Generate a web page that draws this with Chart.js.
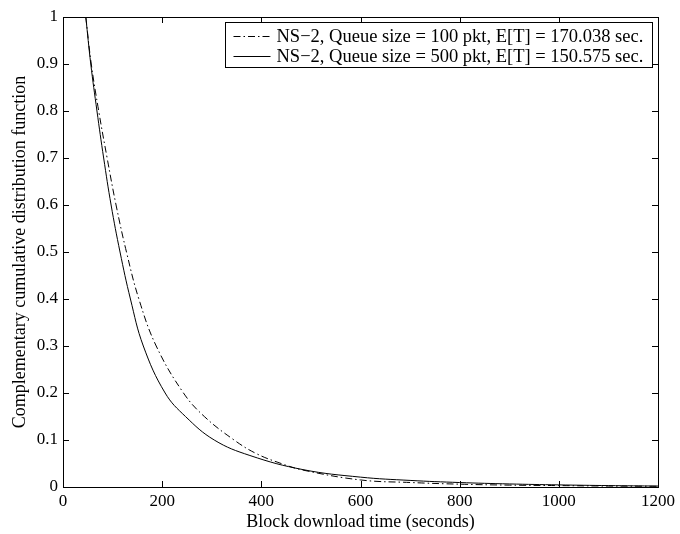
<!DOCTYPE html>
<html>
<head>
<meta charset="utf-8">
<script src="https://cdn.jsdelivr.net/npm/chart.js@4.4.0/dist/chart.umd.min.js"></script>
<style>
  html, body { margin: 0; padding: 0; background: #fff; }
  #wrap { width: 680px; height: 534px; }
</style>
</head>
<body>
<div id="wrap"><canvas id="ccdfChart"></canvas></div>
<script>
var seriesLabels = [
  'NS\u22122, Queue size = 100 pkt, E[T] = 170.038 sec.',
  'NS\u22122, Queue size = 500 pkt, E[T] = 150.575 sec.'
];
var q100Times = [46, 57, 72, 89, 107, 128, 153, 188, 243, 285, 345, 390, 440, 484, 600, 700, 800, 900, 1000, 1100, 1200];
var q100Ccdf  = [1.0, 0.9, 0.8, 0.7, 0.6, 0.5, 0.4, 0.3, 0.2, 0.15, 0.1, 0.071, 0.05, 0.036, 0.015, 0.0096, 0.006, 0.004, 0.003, 0.002, 0.0015];
var q500Times = [46, 56, 68.5, 82, 97, 115, 136, 162, 206, 247, 305, 377, 484, 600, 700, 800, 900, 1000, 1100, 1200];
var q500Ccdf  = [1.0, 0.9, 0.8, 0.7, 0.6, 0.5, 0.4, 0.3, 0.2, 0.15, 0.1, 0.067, 0.037, 0.021, 0.014, 0.0095, 0.0065, 0.0045, 0.003, 0.002];
var xTicks = [0, 200, 400, 600, 800, 1000, 1200];
var yTicks = [0, 0.1, 0.2, 0.3, 0.4, 0.5, 0.6, 0.7, 0.8, 0.9, 1];

var serif = '"Liberation Serif", "Times New Roman", serif';

function toPoints(xs, ys) {
  return xs.map(function (x, i) { return { x: x, y: ys[i] }; });
}

// matlab style box with inward ticks, plus the boxed legend
var boxPlugin = {
  id: 'boxTicks',
  afterDatasetsDraw: function (chart) {
    var ctx = chart.ctx;
    var a = chart.chartArea;
    var xs = chart.scales.x, ys = chart.scales.y;
    var len = 6;
    ctx.save();
    ctx.strokeStyle = '#000';
    ctx.lineWidth = 1;
    ctx.setLineDash([]);
    ctx.beginPath();
    xTicks.forEach(function (v) {
      var px = Math.round(xs.getPixelForValue(v)) + 0.5;
      ctx.moveTo(px, a.bottom); ctx.lineTo(px, a.bottom - len);
      ctx.moveTo(px, a.top); ctx.lineTo(px, a.top + len);
    });
    yTicks.forEach(function (v) {
      var py = Math.round(ys.getPixelForValue(v)) + 0.5;
      ctx.moveTo(a.left, py); ctx.lineTo(a.left + len, py);
      ctx.moveTo(a.right, py); ctx.lineTo(a.right - len, py);
    });
    ctx.stroke();
    ctx.strokeRect(Math.round(a.left) + 0.5, Math.round(a.top) + 0.5,
      Math.round(a.right - a.left), Math.round(a.bottom - a.top));

    // legend
    var lx = 225.5, ly = 22.5, lw = 427, lh = 45;
    ctx.fillStyle = '#fff';
    ctx.fillRect(lx, ly, lw, lh);
    ctx.strokeRect(lx, ly, lw, lh);
    ctx.font = '18.5px ' + serif;
    ctx.textBaseline = 'middle';
    ctx.fillStyle = '#000';
    chart.data.datasets.forEach(function (ds, i) {
      var rowY = ly + 14 + i * 20;
      ctx.beginPath();
      ctx.setLineDash(ds.borderDash || []);
      ctx.moveTo(lx + 8, rowY);
      ctx.lineTo(lx + 45, rowY);
      ctx.stroke();
      ctx.setLineDash([]);
      ctx.fillText(ds.label, lx + 51, rowY + 1);
    });
    ctx.restore();
  }
};

var ctx = document.getElementById('ccdfChart').getContext('2d');
var ccdfChart = new Chart(ctx, {
  type: 'line',
  data: {
    datasets: [
      {
        label: seriesLabels[0],
        data: toPoints(q100Times, q100Ccdf),
        borderColor: '#000',
        borderWidth: 1,
        borderDash: [7, 3, 1.5, 3],
        pointRadius: 0,
        fill: false,
        tension: 0.4
      },
      {
        label: seriesLabels[1],
        data: toPoints(q500Times, q500Ccdf),
        borderColor: '#000',
        borderWidth: 1,
        pointRadius: 0,
        fill: false,
        tension: 0.4
      }
    ]
  },
  options: {
    responsive: true,
    maintainAspectRatio: false,
    animation: false,
    layout: { padding: { top: 17, right: 22, left: 0, bottom: 0 } },
    plugins: {
      legend: { display: false },
      tooltip: { enabled: false }
    },
    scales: {
      x: {
        type: 'linear',
        min: 0,
        max: 1200,
        afterBuildTicks: function (s) { s.ticks = xTicks.map(function (v) { return { value: v }; }); },
        afterFit: function (s) { s.height = 47; },
        grid: { display: false, drawTicks: false },
        border: { display: false },
        ticks: {
          color: '#000',
          padding: 4,
          maxRotation: 0,
          font: { family: serif, size: 17 },
          callback: function (v) { return String(v); }
        },
        title: {
          display: true,
          text: 'Block download time (seconds)',
          color: '#000',
          font: { family: serif, size: 18 },
          padding: { top: 0, bottom: 1 }
        }
      },
      y: {
        type: 'linear',
        min: 0,
        max: 1,
        afterBuildTicks: function (s) { s.ticks = yTicks.map(function (v) { return { value: v }; }); },
        afterFit: function (s) { s.width = 63; },
        grid: { display: false, drawTicks: false },
        border: { display: false },
        ticks: {
          color: '#000',
          padding: 5,
          font: { family: serif, size: 17 },
          callback: function (v) { return String(v); }
        },
        title: {
          display: true,
          text: 'Complementary cumulative distribution function',
          color: '#000',
          font: { family: serif, size: 18 },
          padding: { top: 9, bottom: 0 }
        }
      }
    }
  },
  plugins: [boxPlugin]
});
</script>
</body>
</html>
